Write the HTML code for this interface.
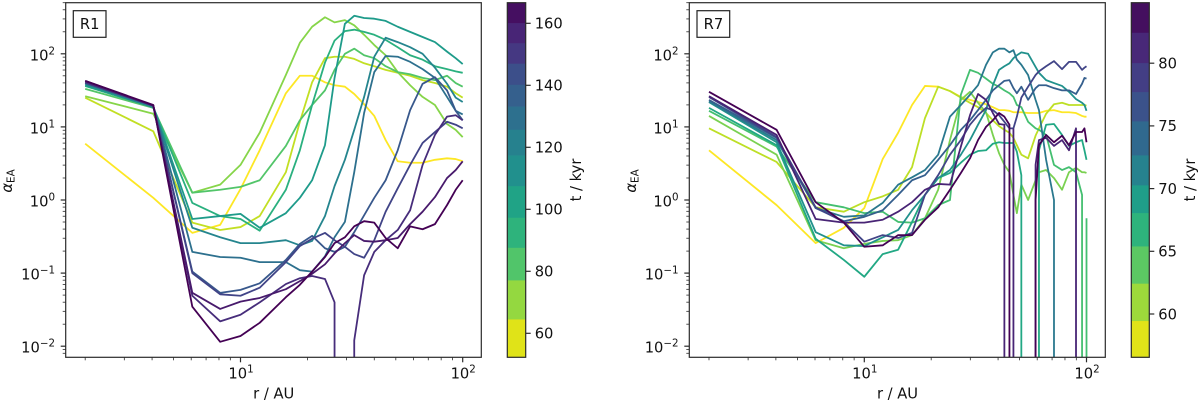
<!DOCTYPE html>
<html lang="en">
<head>
<meta charset="utf-8">
<title>Alpha EA profiles R1 and R7</title>
<style>
html,body{margin:0;padding:0;background:#fff;width:1200px;height:403px;overflow:hidden}
svg{display:block;font-family:"DejaVu Sans","Liberation Sans",sans-serif;fill:#111}
</style>
</head>
<body>
<svg id="figure" xmlns="http://www.w3.org/2000/svg" width="1200" height="403" viewBox="0 0 1200 403">
  <defs>
    <clipPath id="clip-r1"><rect x="65.7" y="2.7" width="415.6" height="354.6"/></clipPath>
    <clipPath id="clip-r7"><rect x="689.3" y="2.7" width="416" height="354.6"/></clipPath>
  </defs>
  <g id="panel-r1"></g>
  <g id="panel-r7"></g>

  <g>
    <rect x="73.3" y="10.7" width="32.7" height="26.6" fill="#fff" stroke="#222" stroke-width="1.2"/>
    <text x="89.7" y="29" font-size="14.7" text-anchor="middle">R1</text>
  </g>
  <g>
    <rect x="697" y="10.7" width="32.7" height="26.6" fill="#fff" stroke="#222" stroke-width="1.2"/>
    <text x="713.4" y="29" font-size="14.7" text-anchor="middle">R7</text>
  </g>

  <text x="273.7" y="398.5" font-size="14.7" text-anchor="middle">r / AU</text>
  <text x="897.5" y="398.5" font-size="14.7" text-anchor="middle">r / AU</text>
  <text transform="translate(12,181) rotate(-90)" font-size="14.7" text-anchor="middle"><tspan font-style="italic">α</tspan><tspan font-size="10.3" dy="2.5">EA</tspan></text>
  <text transform="translate(636,181) rotate(-90)" font-size="14.7" text-anchor="middle"><tspan font-style="italic">α</tspan><tspan font-size="10.3" dy="2.5">EA</tspan></text>
  <text transform="translate(581,180) rotate(-90)" font-size="14.7" text-anchor="middle">t / kyr</text>
  <text transform="translate(1195,180) rotate(-90)" font-size="14.7" text-anchor="middle">t / kyr</text>
</svg>

<script>
/* ---------- R1 data: radius in AU, log10(alpha_EA); null means alpha <= 0 ---------- */
const r1Radius = [2,4.05,6.07,8.1,10,12.2,16,18.5,21,24,26.5,29.5,32.5,36,40,45,51,58,66,75,85,93,100];
const r1Line01 = [.77,.03,-.45,-.34,.15,.68,1.46,1.70,1.70,1.61,1.57,1.55,1.45,1.31,1.15,.82,.53,.51,.51,.55,.57,.56,.53];
const r1Line02 = [1.40,.94,-.31,-.41,-.37,-.22,.38,1.07,1.61,1.94,1.96,1.96,1.93,1.87,1.83,1.78,1.74,1.70,1.64,1.60,1.55,1.46,1.40];
const r1Line03 = [1.42,1.18,.10,.21,.48,.92,1.71,2.15,2.37,2.50,2.43,2.46,2.39,2.26,2.12,1.98,1.75,1.57,1.41,1.30,1.04,.96,.86];
const r1Line04 = [1.52,1.26,.10,.14,.18,.27,.74,1.09,1.30,1.50,1.78,2.00,2.07,1.98,1.94,1.83,1.75,1.72,1.67,1.64,1.70,1.60,1.55];
const r1Line05 = [1.56,1.27,-.04,-.22,-.26,-.42,.14,.68,1.30,1.88,2.18,2.31,2.33,2.30,2.26,2.19,2.09,1.98,1.92,1.83,1.79,1.76,1.74];
const r1Line06 = [1.57,1.27,-.26,-.22,-.19,-.38,-.18,.03,.27,.75,1.67,2.41,2.52,2.49,2.48,2.45,2.37,2.30,2.23,2.16,2.03,1.94,1.86];
const r1Line07 = [1.59,1.27,-.38,-.51,-.59,-.59,-.55,-.62,-.56,-.22,.19,.55,.96,1.41,1.96,2.22,2.16,2.09,2.00,1.81,1.59,1.40,1.34];
const r1Line08 = [1.60,1.29,-.71,-.78,-.79,-.85,-.85,-.96,-.98,-.77,-.51,-.30,.38,1.19,1.75,1.97,1.96,1.89,1.79,1.67,1.41,1.22,1.17];
const r1Line09 = [1.60,1.29,-.98,-1.27,-1.23,-1.14,-.82,-.60,-.49,-.66,-.71,-.64,-.44,-.21,.03,.27,.68,1.23,1.59,1.68,1.50,1.22,1.09];
const r1Line10 = [1.61,1.29,-1.0,-1.29,-1.31,-1.20,-.85,-.63,-.53,-.45,-.55,-.64,-.74,-.79,-.55,-.16,.16,.48,.78,.93,1.07,1.03,.98];
const r1Line11 = [1.61,1.29,-1.31,-1.66,-1.57,-1.40,-1.15,-1.07,-1.04,-1.08,-1.40,null,-1.92,-1.03,-.71,-.55,-.41,-.14,.48,.89,1.14,1.16,1.09];
const r1Line12 = [1.63,1.29,-1.27,-1.49,-1.39,-1.34,-1.22,-1.11,-1.01,-.88,-.73,-.59,-.48,-.56,-.57,-.55,-.52,-.33,-.16,.04,.30,.41,.53];
const r1Line13 = [1.63,1.30,-1.46,-1.94,-1.86,-1.68,-1.33,-1.16,-.98,-.78,-.59,-.51,-.36,-.29,-.31,-.52,-.66,-.36,-.40,-.33,-.07,.14,.27];
const r1ColorbarEdges = [52.3,64.6,77.2,87.7,97.4,107.6,117.5,125.8,133.3,140.3,147.1,153.7,160.2,166.7];
const r1ColorbarTicks = [60,80,100,120,140,160];

/* ---------- R7 data ---------- */
const r7Radius = [2,4.03,6.04,8.09,10,12.1,14.2,16.4,18.75,21.5,24.3,27.2,29.9,32.5,35.3,37.9,40.4,42.7,45,46.9,48.6,50.9,54.6,59,61.1,65.8,71.4,77.6,83.4,89.7,95.5,97.9,100];
const r7Line01 = [.68,-.07,-.59,-.38,-.11,.56,.92,1.30,1.56,1.55,1.49,1.41,1.37,1.34,1.31,1.27,1.23,1.23,1.22,1.20,1.20,1.20,1.19,1.19,1.19,1.22,1.23,1.20,1.20,1.19,1.15,1.14,1.14];
const r7Line02 = [.98,.52,-.10,-.16,-.03,.05,.14,.45,1.12,1.55,1.49,1.40,1.33,1.27,1.19,1.09,1.01,.96,.92,.85,.75,.62,.57,.88,.98,1.18,1.31,1.33,1.30,1.30,1.30,1.30,1.29];
const r7Line03 = [1.15,.62,-.55,-.66,-.60,-.56,-.55,-.48,-.25,.14,.82,1.37,1.48,1.33,1.20,.89,.64,.48,.38,.07,-.18,.21,0,.27,.38,.41,.30,.14,.38,.44,.38,.38,.37];
const r7Line04 = [1.22,.73,-.03,-.10,-.18,-.16,-.30,-.31,-.25,-.07,0,1.44,1.78,1.74,1.66,1.59,1.55,1.50,1.46,1.41,1.30,1.27,1.07,.98,.96,.89,.48,.41,.45,.38,.07,null,-.25];
const r7Line05 = [1.26,.75,-.53,-.82,-1.05,-.74,-.68,-.30,.07,.30,.37,.51,.62,.67,.68,.77,.79,.78,.78,.78,.66,.34,null,null,.68,1.03,1.04,.89,.74,.79,.82,.68,.55];
const r7Line06 = [1.34,.79,-.44,-.62,-.63,-.51,-.41,-.14,.07,.30,.41,.62,.82,1.03,1.23,1.57,1.78,1.83,1.87,1.94,1.98,2.02,2.00,1.82,1.74,1.64,1.60,1.56,1.48,1.38,1.33,1.30,1.22];
const r7Line07 = [1.35,.82,-.11,-.23,-.21,-.04,.21,.31,.41,.62,1.14,1.30,1.44,1.57,1.85,2.02,2.07,2.07,2.02,2.05,1.92,1.85,1.71,1.37,1.23,.55,0,null,null,null,null,null,null];
const r7Line08 = [1.37,.85,-.11,-.29,-.23,-.14,.07,.27,.34,.55,.75,.96,1.09,1.23,1.37,1.50,1.57,1.63,1.64,1.53,1.46,1.55,1.37,1.53,1.57,1.57,1.53,1.50,1.50,1.45,1.59,1.67,1.66];
const r7Line09 = [1.41,.86,-.10,-.30,-.57,-.48,-.52,-.45,.07,.34,.62,.82,1.03,1.16,1.26,1.23,1.16,1.07,.98,.98,1.14,1.40,1.55,1.71,1.76,1.83,1.90,1.79,1.89,1.89,1.78,1.81,1.83];
const r7Line10 = [1.42,.89,-.26,-.31,-.31,-.27,-.16,-.03,.14,.22,.21,.73,1.16,1.45,1.37,1.19,1.04,1.03,null,.97,null,null,null,.48,.82,.85,.74,.82,.68,.98,null,null,null];
const r7Line11 = [1.48,.96,-.03,-.31,-.64,-.62,-.48,-.48,-.27,-.10,.14,.37,.57,.82,1.00,1.09,1.19,1.14,1.03,null,null,null,null,0,.75,.89,.79,.88,.75,.93,.93,.98,.79];
const r7ColorbarEdges = [56.55,59.47,62.45,65.42,68.08,70.29,72.68,75.39,77.73,80.04,82.46,84.82];
const r7ColorbarTicks = [60,65,70,75,80];

/* ---------- shared axis ticks (log10 decades) ---------- */
const xDecadeTicks = [1,2];
const yDecadeTicks = [-2,-1,0,1,2];

/* ---------- colours ---------- */
const r1LineColors = ['#fde725','#c2df23','#86d549','#52c569','#2ab07f','#1e9b8a','#25858e','#2d708e','#38588c','#414487','#472d7b','#481a6c','#440154'];
const r1BandColors = ['#e0e318','#94d840','#51c56a','#2eb37c','#20a386','#21908d','#26818e','#2d708e','#35608d','#3c4f8a','#453882','#482576','#450f61'];
const r7LineColors = ['#fde725','#bddf26','#7ad151','#44bf70','#22a884','#21918c','#2a788e','#355f8d','#414487','#482475','#440154'];
const r7BandColors = ['#e1e319','#9dd93b','#5cc863','#2eb37c','#1f9e89','#26828e','#30698e','#3b528b','#433e85','#482878','#440f5f'];

const NS = 'http://www.w3.org/2000/svg';
const DECADE_X = 222.2;
const DECADE_Y = 73.1;
const SPINE = '#2b2b2b';

function node(tag, parent) {
  const el = document.createElementNS(NS, tag);
  parent.appendChild(el);
  return el;
}

function tickLine(parent, x1, y1, x2, y2, w, label) {
  const el = node('line', parent);
  el.setAttribute('x1', x1);
  el.setAttribute('y1', y1);
  el.setAttribute('x2', x2);
  el.setAttribute('y2', y2);
  el.setAttribute('stroke', SPINE);
  el.setAttribute('stroke-width', w);
  
  
}

function powerLabel(parent, x, y, anchor, exponent, label) {
  const el = node('text', parent);
  el.setAttribute('x', x);
  el.setAttribute('y', y);
  el.setAttribute('font-size', '14.7');
  el.setAttribute('text-anchor', anchor);
  
  
  const base = node('tspan', el);
  base.textContent = '10';
  const sup = node('tspan', el);
  sup.setAttribute('font-size', '10.3');
  sup.setAttribute('dy', '-6');
  sup.textContent = String(exponent).replace('-', '\u2212');
}

/* A null value (alpha <= 0) is off a log axis: the line runs straight down
   at the last valid radius and comes straight back up at the next one. */
function profilePath(vals, radius, xOf, yOf, floorY) {
  let d = '';
  vals.forEach((v, k) => {
    const x = xOf(radius[k]).toFixed(2);
    if (v === null) {
      if (k > 0 && vals[k - 1] !== null) {
        d += ' L' + xOf(radius[k - 1]).toFixed(2) + ' ' + floorY;
      }
      return;
    }
    const y = yOf(v).toFixed(2);
    if (k === 0) {
      d += 'M' + x + ' ' + y;
    } else if (vals[k - 1] === null) {
      d += ' M' + x + ' ' + floorY + ' L' + x + ' ' + y;
    } else {
      d += ' L' + x + ' ' + y;
    }
  });
  return d;
}

function drawPanel(id, clipId, geom, radius, lines, lineColors, edges, bandColors, cbTicks, cbScale) {
  const g = document.getElementById(id);
  const xOf = r => geom.x10 + DECADE_X * (Math.log10(r) - 1);
  const yOf = v => geom.y0 - DECADE_Y * v;
  const logXmin = 1 + (geom.left - geom.x10) / DECADE_X;
  const logXmax = 1 + (geom.right - geom.x10) / DECADE_X;
  const logYmin = (geom.y0 - geom.bottom) / DECADE_Y;
  const logYmax = (geom.y0 - geom.top) / DECADE_Y;

  const series = node('g', g);
  series.setAttribute('clip-path', 'url(#' + clipId + ')');
  
  
  lines.forEach((vals, i) => {
    const p = node('path', series);
    p.setAttribute('d', profilePath(vals, radius, xOf, yOf, geom.bottom));
    p.setAttribute('fill', 'none');
    p.setAttribute('stroke', lineColors[i]);
    p.setAttribute('stroke-width', '1.8');
    p.setAttribute('stroke-linejoin', 'round');
    
    
  });

  const frame = node('rect', g);
  frame.setAttribute('x', geom.left);
  frame.setAttribute('y', geom.top);
  frame.setAttribute('width', geom.right - geom.left);
  frame.setAttribute('height', geom.bottom - geom.top);
  frame.setAttribute('fill', 'none');
  frame.setAttribute('stroke', SPINE);
  frame.setAttribute('stroke-width', '1.2');
  
  

  for (let d = 0; d <= 2; d++) {
    for (let m = 2; m <= 9; m++) {
      const lv = d + Math.log10(m);
      if (lv > logXmin && lv < logXmax) {
        const x = xOf(Math.pow(10, lv));
        tickLine(g, x, geom.bottom, x, geom.bottom + 3, 0.8, 'x-minor-tick');
      }
    }
  }
  for (let d = -3; d <= 2; d++) {
    for (let m = 2; m <= 9; m++) {
      const lv = d + Math.log10(m);
      if (lv > logYmin && lv < logYmax) {
        const y = yOf(lv);
        tickLine(g, geom.left - 3, y, geom.left, y, 0.8, 'y-minor-tick');
      }
    }
  }
  xDecadeTicks.forEach(e => {
    const x = xOf(Math.pow(10, e));
    tickLine(g, x, geom.bottom, x, geom.bottom + 5, 1.2, 'x-major-tick');
    powerLabel(g, x + 0.5, geom.bottom + 21, 'middle', e, 'x-tick-label');
  });
  yDecadeTicks.forEach(e => {
    const y = yOf(e);
    tickLine(g, geom.left - 5, y, geom.left, y, 1.2, 'y-major-tick');
    powerLabel(g, geom.left - 10.7, y + 6.5, 'end', e, 'y-tick-label');
  });

  const bar = node('g', g);
  
  
  bandColors.forEach((c, i) => {
    const yA = cbScale(edges[i]);
    const yB = cbScale(edges[i + 1]);
    const band = node('rect', bar);
    band.setAttribute('x', geom.cbLeft);
    band.setAttribute('y', yB);
    band.setAttribute('width', geom.cbRight - geom.cbLeft);
    band.setAttribute('height', yA - yB + 0.4);
    band.setAttribute('fill', c);
    
    
  });
  const outline = node('rect', bar);
  outline.setAttribute('x', geom.cbLeft);
  outline.setAttribute('y', geom.top);
  outline.setAttribute('width', geom.cbRight - geom.cbLeft);
  outline.setAttribute('height', geom.bottom - geom.top);
  outline.setAttribute('fill', 'none');
  outline.setAttribute('stroke', SPINE);
  outline.setAttribute('stroke-width', '1.2');
  
  
  cbTicks.forEach(t => {
    const y = cbScale(t);
    tickLine(bar, geom.cbRight, y, geom.cbRight + 5, y, 1.2, 'colorbar-tick');
    const lab = node('text', bar);
    lab.setAttribute('x', geom.cbRight + 9);
    lab.setAttribute('y', y + 5.3);
    lab.setAttribute('font-size', '14.7');
    
    
    lab.textContent = t;
  });
}

drawPanel('panel-r1', 'clip-r1',
  {left:65.7, right:481.3, top:2.7, bottom:357.3, x10:240.5, y0:200, cbLeft:507.3, cbRight:525.7},
  r1Radius,
  [r1Line01,r1Line02,r1Line03,r1Line04,r1Line05,r1Line06,r1Line07,r1Line08,r1Line09,r1Line10,r1Line11,r1Line12,r1Line13],
  r1LineColors, r1ColorbarEdges, r1BandColors, r1ColorbarTicks,
  t => 333.3 - (t - 60) * 3.1);

drawPanel('panel-r7', 'clip-r7',
  {left:689.3, right:1105.3, top:2.7, bottom:357.3, x10:864.3, y0:200, cbLeft:1131.3, cbRight:1149.3},
  r7Radius,
  [r7Line01,r7Line02,r7Line03,r7Line04,r7Line05,r7Line06,r7Line07,r7Line08,r7Line09,r7Line10,r7Line11],
  r7LineColors, r7ColorbarEdges, r7BandColors, r7ColorbarTicks,
  t => 314 - (t - 60) * 12.54);
</script>
</body>
</html>
